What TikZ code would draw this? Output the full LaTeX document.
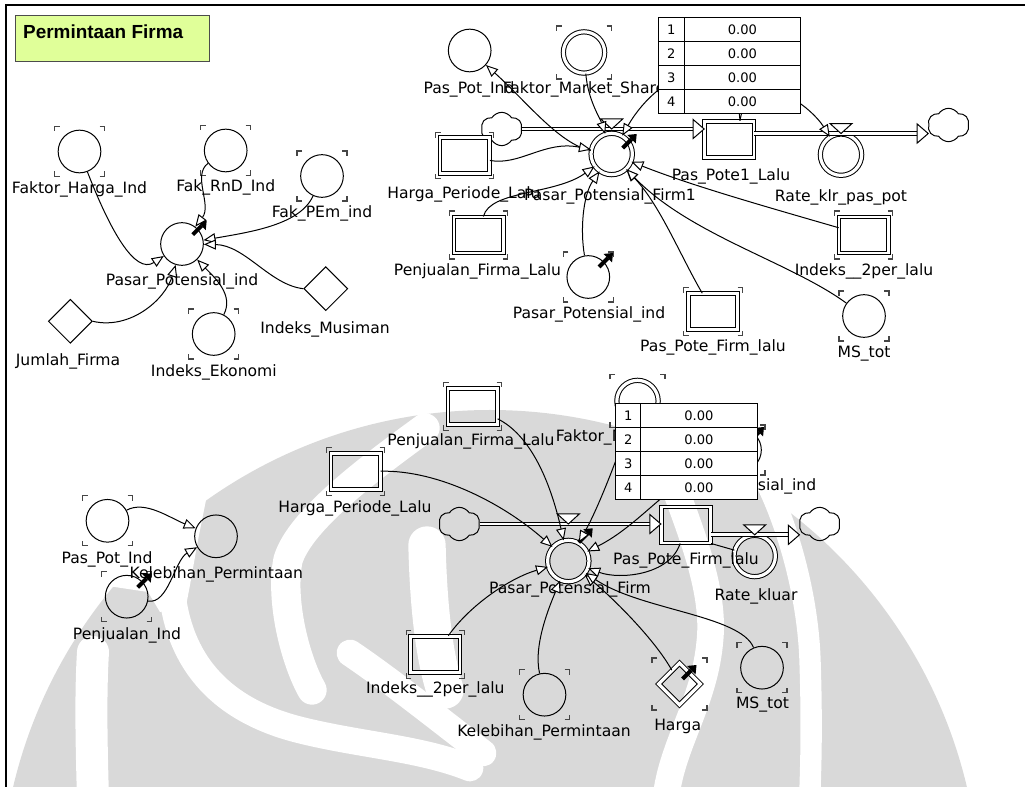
\documentclass[tikz,border=0pt]{standalone}
\usepackage{fontspec}
\setmainfont{DejaVu Sans}
\newfontfamily\judulfont{Liberation Sans}
\usetikzlibrary{arrows.meta,shapes.geometric,shapes.symbols}

\definecolor{catatan}{RGB}{224,255,153}
\definecolor{tandagrey}{RGB}{70,70,70}
\definecolor{logogrey}{RGB}{217,217,217}

\tikzset{every picture/.style={line width=0.75pt}}
\tikzset{
  aux/.style={circle, draw, minimum size=32pt, inner sep=0pt},
  rate/.style={circle, draw, double, double distance=2.4pt, minimum size=31pt, inner sep=0pt},
  stock/.style={rectangle, draw, double, double distance=2pt, minimum width=37pt, minimum height=27pt, inner sep=0pt},
  konst/.style={diamond, draw, minimum width=33pt, minimum height=33pt, inner sep=0pt},
  lbl/.style={inner sep=0.75pt, font=\fontsize{11.7}{13}\selectfont},
  link/.style={-{Triangle[fill=white, length=9pt, width=7.5pt]}},
  dfn/.style={line width=3pt, -{Triangle[line width=0pt, length=5.5pt, width=9pt]}},
  ghost/.style={line width=0.9pt, draw=tandagrey},
  pipe/.style={double, double distance=2.2pt, shorten >=8.25pt},
  sink/.style={cloud, draw, cloud puffs=6, cloud puff arc=115, aspect=1.2, minimum width=31pt, minimum height=25pt, inner sep=0pt},
  cellidx/.style={rectangle, draw, fill=white, minimum width=19.2pt, minimum height=18pt, inner sep=0pt, font=\fontsize{9.8}{11}\selectfont},
  cellval/.style={cellidx, minimum width=87.2pt},
  logocut/.style={draw=white, line cap=round, line join=round, line width=22pt},
}

% tanda sudut variabel bayangan
\newcommand{\ghostcorners}[3]{%
  \foreach \sx/\sy/\tx/\ty in {-1/-1/5/5,1/-1/-5/5,-1/1/5/-5,1/1/-5/-5}
    \draw[ghost] (#1.center) ++(\sx*#2,\sy*#3) +(\tx,0) -- +(0,0) -- +(0,\ty);
}
% panah hitam kecil
\newcommand{\defmark}[3]{\draw[dfn] (#1.center) ++(#2,#3) +(-14,14) -- +(0,0);}
% kepala pipa dan katup
\newcommand{\pipehead}[1]{\draw[fill=white] #1 -- ++(-11,-9.5) -- ++(0,19) -- cycle;}
\newcommand{\valvemark}[1]{\draw[fill=white] #1 -- ++(-11,-10) -- ++(22,0) -- cycle;}

\begin{document}
\begin{tikzpicture}[x=0.75pt,y=0.75pt,yscale=-1,xscale=1]
\useasboundingbox (0,0) rectangle (1025,787);

% logo latar (abu-abu muda)
\begin{scope}
\clip (6,5) rectangle (1025,787);
\fill[logogrey] (490,900) circle (367.5pt);
\fill[white] (90,470) -- (212,470) -- (198,540) -- (190,585) -- (186,606) -- (160,612) -- (148,592) -- (108,586) -- (80,560) -- cycle;
\draw[logocut, line width=20pt] (173,600) .. controls (185,680) and (240,715) .. (300,730) .. controls (360,745) and (420,748) .. (470,768);
\draw[logocut, line width=24pt] (93,652) .. controls (90,700) and (92,760) .. (93,800);
\draw[logocut] (425,428) .. controls (370,468) and (300,520) .. (288,560) .. controls (280,600) and (295,660) .. (312,690);
\draw[logocut, line width=28pt] (427,545) .. controls (428,590) and (432,650) .. (445,690);
\draw[logocut, line width=20pt] (350,653) .. controls (390,680) and (440,720) .. (483,753);
\draw[logocut, line width=20pt] (672,480) .. controls (690,530) and (715,590) .. (710,640) .. controls (705,700) and (675,740) .. (667,790);
\draw[logocut, line width=16pt] (765,480) .. controls (790,530) and (808,600) .. (810,660) .. controls (812,720) and (811,760) .. (810,790);
\end{scope}

% bingkai
\draw[line width=2pt] (6,787) -- (6,5) -- (1025,5);

% Text Node judul
\node[draw=black!70, fill=catatan, minimum width=145.7pt, minimum height=34.7pt, inner sep=0pt] (judul) at (112.8,38.8) {};
\node[anchor=base west, inner sep=0pt, font=\judulfont\bfseries\fontsize{14.2}{16}\selectfont] (judul-t) at (22.7,39) {Permintaan Firma};

%% ---------- pasar potensial industri ----------
\node[aux] (fhi) at (79.5,151.5) {};
\node[aux] (frd) at (225.7,150.5) {};
\node[aux] (fpe) at (322,176) {};
\node[aux] (ppi) at (182,244) {};
\node[konst] (jf) at (70.3,321.3) {};
\node[aux] (iek) at (213.7,334) {};
\node[konst] (imu) at (325.8,288.7) {};
\ghostcorners{fhi}{25}{25}
\ghostcorners{frd}{25}{25}
\ghostcorners{fpe}{25}{25}
\ghostcorners{iek}{25}{25}
\defmark{ppi}{24.7}{-23.3}

% Text Node
\node[lbl] (fhi-t) at (79.5,189) {Faktor\_Harga\_Ind};
\node[lbl] (frd-t) at (225.7,187.5) {Fak\_RnD\_Ind};
\node[lbl] (fpe-t) at (322,213) {Fak\_PEm\_ind};
\node[lbl] (ppi-t) at (182,281) {Pasar\_Potensial\_ind};
\node[lbl] (jf-t) at (68,361) {Jumlah\_Firma};
\node[lbl] (iek-t) at (213.8,372) {Indeks\_Ekonomi};
\node[lbl] (imu-t) at (325,329) {Indeks\_Musiman};

\draw[link] (fhi) .. controls (110,230) and (135,275) .. (ppi);
\draw[link] (frd) .. controls (192,175) and (212,205) .. (ppi);
\draw[link] (fpe) .. controls (300,225) and (250,232) .. (ppi);
\draw[link] (imu.west) .. controls (270,285) and (245,245) .. (ppi);
\draw[link] (jf.east) .. controls (130,330) and (165,300) .. (ppi);
\draw[link] (iek) .. controls (234,295) and (215,278) .. (ppi);

%% ---------- pasar potensial firma 1 ----------
\node[aux] (ppo) at (469.7,50.5) {};
\node[rate] (fms) at (584,52.5) {};
\node[sink] (cl1) at (501.7,129) {};
\node[stock] (hpl) at (464.7,155.8) {};
\node[rate] (pf1) at (611.7,154) {};
\node[stock] (ps1) at (729.3,139.2) {};
\node[rate] (rkp) at (841,154.7) {};
\node[sink] (cl2) at (948.5,125) {};
\node[stock] (pj1) at (478.8,235) {};
\node[aux] (ppi2) at (588.3,277) {};
\node[stock] (ppf1) at (713,311.7) {};
\node[stock] (ip1) at (863.8,235) {};
\node[aux] (ms1) at (864,316) {};
\ghostcorners{fms}{27.5}{26.5}
\ghostcorners{hpl}{29}{23}
\ghostcorners{pj1}{29}{24}
\ghostcorners{ppi2}{25}{25}
\ghostcorners{ppf1}{29.5}{24}
\ghostcorners{ip1}{29}{24}
\ghostcorners{ms1}{25}{25}
\defmark{pf1}{25}{-20}
\defmark{ppi2}{24.7}{-24}

% pipa aliran
\draw[pipe] (cl1.east) -- (cl1.east -| ps1.west);
\pipehead{(cl1.east -| ps1.west)}
\valvemark{(pf1 |- cl1)}
\draw[pipe] (ps1.east |- rkp.north) -- (rkp.north -| cl2.west);
\pipehead{(rkp.north -| cl2.west)}
\valvemark{(rkp.north)}

% Text Node
\node[lbl] (ppo-t) at (469,89) {Pas\_Pot\_Ind};
\node[lbl] (fms-t) at (584,89) {Faktor\_Market\_Share};
\node[lbl] (hpl-t) at (464,194) {Harga\_Periode\_Lalu};
\node[lbl] (pf1-t) at (610,196) {Pasar\_Potensial\_Firm1};
\node[lbl] (ps1-t) at (731,176) {Pas\_Pote1\_Lalu};
\node[lbl] (rkp-t) at (841,197) {Rate\_klr\_pas\_pot};
\node[lbl] (pj1-t) at (477.5,271) {Penjualan\_Firma\_Lalu};
\node[lbl] (ppi2-t) at (589,314) {Pasar\_Potensial\_ind};
\node[lbl] (ppf1-t) at (713,347) {Pas\_Pote\_Firm\_lalu};
\node[lbl] (ip1-t) at (864,271) {Indeks\_\_2per\_lalu};
\node[lbl] (ms1-t) at (864,354) {MS\_tot};

\draw[link] (pf1) .. controls (560,145) and (525,100) .. (ppo);
\draw[link] (fms) .. controls (588,100) and (600,118) .. (pf1);
\draw[link] (hpl) .. controls (520,166) and (545,140) .. (pf1);
\draw[link] (pj1) .. controls (490,190) and (555,195) .. (pf1);
\draw[link] (ppi2) .. controls (580,230) and (583,195) .. (pf1);
\draw[link] (ppf1) .. controls (680,255) and (660,205) .. (pf1);
\draw[link] (ip1) .. controls (760,205) and (690,185) .. (pf1);
\draw[link] (ms1) .. controls (790,262) and (690,235) .. (pf1);
\draw[link] ([xshift=8pt]ps1.north) .. controls (735,40) and (660,70) .. (pf1);
\draw[link] ([xshift=8pt]ps1.north) .. controls (750,60) and (810,105) .. (rkp);

% tabel nilai
\foreach \i in {1,...,4}{
  \node[cellidx] (ta\i) at (671.2,{5.3+24*\i}) {\i};
  \node[cellval] (tv\i) at (742.4,{5.3+24*\i}) {0.00};
}

%% ---------- kelebihan permintaan ----------
\node[aux] (ppo2) at (107.5,520.8) {};
\node[aux] (kp1) at (216,536.3) {};
\node[aux] (pji) at (126.7,596.7) {};
\ghostcorners{ppo2}{25}{25}
\ghostcorners{pji}{25}{25}
\defmark{pji}{25}{-23.4}

% Text Node
\node[lbl] (ppo2-t) at (107,559) {Pas\_Pot\_Ind};
\node[lbl] (kp1-t) at (216.3,574) {Kelebihan\_Permintaan};
\node[lbl] (pji-t) at (127,635) {Penjualan\_Ind};

\draw[link] (ppo2) .. controls (145,500) and (170,518) .. (kp1);
\draw[link] (pji) .. controls (168,605) and (175,560) .. (kp1);

%% ---------- pasar potensial firma ----------
\node[stock] (hpl2) at (355.5,471.7) {};
\node[stock] (pj2) at (472.5,406.3) {};
\node[sink] (cl3) at (459.3,524) {};
\node[rate] (pf2) at (568.3,561) {};
\node[rate] (fms2) at (637.5,401) {};
\node[aux] (ppi3) at (740,450) {};
\node[stock] (ps2) at (686,525) {};
\node[rate] (rk2) at (754.7,556) {};
\node[sink] (cl4) at (819.7,524) {};
\node[stock] (ip2) at (435.3,654.2) {};
\node[aux] (kp2) at (544.5,694.7) {};
\node[konst, double, double distance=2.4pt, minimum width=31.5pt, minimum height=31.5pt] (hg) at (679.5,684) {};
\node[aux] (ms2) at (762,667.7) {};
\ghostcorners{hpl2}{29}{24}
\ghostcorners{pj2}{29}{24}
\ghostcorners{fms2}{27.5}{26.5}
\ghostcorners{ppi3}{25}{25}
\ghostcorners{ip2}{29}{24}
\ghostcorners{kp2}{25}{25}
\ghostcorners{hg}{27.5}{26}
\ghostcorners{ms2}{25}{25}
\defmark{pf2}{24.4}{-32.7}
\defmark{hg}{17}{-19}
\defmark{ppi3}{24}{-23}

% pipa aliran
\draw[pipe] (cl3.east) -- (cl3.east -| ps2.west);
\pipehead{(cl3.east -| ps2.west)}
\valvemark{(pf2 |- cl3)}
\draw[pipe] (ps2.east |- rk2.north) -- (rk2.north -| cl4.west);
\pipehead{(rk2.north -| cl4.west)}
\valvemark{(rk2.north)}

% Text Node
\node[lbl] (hpl2-t) at (355,508) {Harga\_Periode\_Lalu};
\node[lbl] (pj2-t) at (471,441) {Penjualan\_Firma\_Lalu};
\node[lbl] (fms2-t) at (637,437) {Faktor\_Market\_Share};
\node[lbl] (ppi3-t) at (740,486) {Pasar\_Potensial\_ind};
\node[lbl] (pf2-t) at (570,589) {Pasar\_Potensial\_Firm};
\node[lbl] (ps2-t) at (686,560) {Pas\_Pote\_Firm\_lalu};
\node[lbl] (rk2-t) at (756,596) {Rate\_kluar};
\node[lbl] (ip2-t) at (435.3,689) {Indeks\_\_2per\_lalu};
\node[lbl] (kp2-t) at (544,732) {Kelebihan\_Permintaan};
\node[lbl] (hg-t) at (677.7,726) {Harga};
\node[lbl] (ms2-t) at (762.5,705) {MS\_tot};

\draw[link] (hpl2) .. controls (440,470) and (505,505) .. (pf2);
\draw[link] (pj2) .. controls (530,435) and (550,480) .. (pf2);
\draw[link] (fms2) .. controls (620,450) and (600,505) .. (pf2);
\draw[link] (ppi3) .. controls (665,485) and (640,525) .. (pf2);
\draw[link] (ps2) .. controls (670,575) and (620,580) .. (pf2);
\draw (ps2.south east) -- (rk2);
\draw[link] (ip2) .. controls (470,605) and (510,578) .. (pf2);
\draw[link] (kp2) .. controls (533,645) and (550,605) .. (pf2);
\draw[link] (hg) .. controls (655,640) and (615,600) .. (pf2);
\draw[link] (ms2) .. controls (740,615) and (640,610) .. (pf2);

% tabel nilai
\foreach \i in {1,...,4}{
  \node[cellidx] (tb\i) at (628.4,{391.2+24.2*\i}) {\i};
  \node[cellval] (tw\i) at (698.9,{391.2+24.2*\i}) {0.00};
}

\end{tikzpicture}
\end{document}
